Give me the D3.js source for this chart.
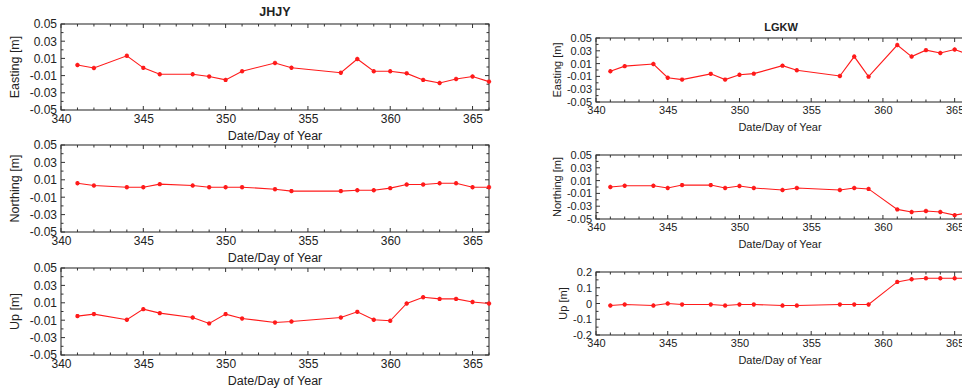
<!DOCTYPE html>
<html><head><meta charset="utf-8">
<script src="https://cdn.jsdelivr.net/npm/d3@7"></script>
<style>
html,body{margin:0;padding:0;background:#fff;overflow:hidden;}
svg{display:block;font-family:"Liberation Sans",Arial,sans-serif;}
</style></head>
<body>
<svg id="chart" width="962" height="390"></svg>
<script>
// ---------- data ----------
const stations = ["JHJY", "LGKW"];
const xTickLabels = [340, 345, 350, 355, 360, 365];
const yTicksSmall = [-0.05, -0.03, -0.01, 0.01, 0.03, 0.05];
const yTicksUpLGKW = [-0.2, -0.1, 0, 0.1, 0.2];
const components = ["Easting [m]", "Northing [m]", "Up [m]"];
const xAxisLabel = "Date/Day of Year";

const daysJHJY = [341,342,344,345,346,348,349,350,351,353,354,357,358,359,360,361,362,363,364,365,366];
const jhjyEasting  = [0.0023,-0.0012,0.013,-0.001,-0.0085,-0.0085,-0.011,-0.015,-0.005,0.0047,-0.0008,-0.0066,0.0093,-0.005,-0.005,-0.0074,-0.015,-0.0186,-0.014,-0.011,-0.017];
const jhjyNorthing = [0.0061,0.0034,0.0015,0.0015,0.005,0.0034,0.0015,0.0015,0.0015,-0.0008,-0.003,-0.003,-0.002,-0.002,0.0004,0.0046,0.0046,0.006,0.006,0.0015,0.0015];
const jhjyUp       = [-0.0053,-0.003,-0.0095,0.0027,-0.0019,-0.0069,-0.0137,-0.003,-0.008,-0.0126,-0.0115,-0.0069,-0.0004,-0.0095,-0.0107,0.0092,0.0164,0.0145,0.0145,0.011,0.0092];

const daysLGKW = [341,342,344,345,346,348,349,350,351,353,354,357,358,359,361,362,363,364,365,366];
const lgkwEasting  = [-0.002,0.006,0.0094,-0.012,-0.015,-0.006,-0.015,-0.0075,-0.0057,0.0068,-0.0005,-0.0094,0.021,-0.0104,0.039,0.021,0.031,0.0266,0.032,0.024];
const lgkwNorthing = [0.0,0.002,0.002,-0.0015,0.003,0.003,-0.0015,0.0015,-0.0015,-0.0047,-0.0015,-0.0047,-0.0015,-0.003,-0.035,-0.039,-0.0375,-0.039,-0.044,-0.040];
const lgkwUp       = [-0.0126,-0.006,-0.013,0.0,-0.006,-0.006,-0.013,-0.006,-0.006,-0.013,-0.013,-0.006,-0.006,-0.006,0.137,0.154,0.16,0.16,0.16,0.16];

// ---------- layout ----------
const svg = d3.select("#chart");
const RED = "#ff1a1a";
const INK = "#222";

const panels = [
  {st:0, comp:0, x0:61, x1:489, y0:24,  y1:110, days:daysJHJY, vals:jhjyEasting,  yDom:[-0.05,0.05], yTicks:yTicksSmall, yMinor:0.01, fs:12, lfs:12.5, ylabX:15, title:true},
  {st:0, comp:1, x0:61, x1:489, y0:145, y1:232, days:daysJHJY, vals:jhjyNorthing, yDom:[-0.05,0.05], yTicks:yTicksSmall, yMinor:0.01, fs:12, lfs:12.5, ylabX:15},
  {st:0, comp:2, x0:61, x1:489, y0:268, y1:355, days:daysJHJY, vals:jhjyUp,       yDom:[-0.05,0.05], yTicks:yTicksSmall, yMinor:0.01, fs:12, lfs:12.5, ylabX:15},
  {st:1, comp:0, x0:596, x1:969, y0:38,  y1:102, days:daysLGKW, vals:lgkwEasting,  yDom:[-0.05,0.05], yTicks:yTicksSmall, yMinor:0.01, fs:11, lfs:11, ylabX:557, title:true},
  {st:1, comp:1, x0:596, x1:969, y0:155, y1:219, days:daysLGKW, vals:lgkwNorthing, yDom:[-0.05,0.05], yTicks:yTicksSmall, yMinor:0.01, fs:11, lfs:11, ylabX:557},
  {st:1, comp:2, x0:596, x1:969, y0:272, y1:335, days:daysLGKW, vals:lgkwUp,       yDom:[-0.2,0.2],   yTicks:yTicksUpLGKW, yMinor:0.05, fs:11, lfs:11, ylabX:563}
];

const fmt = v => String(v);

panels.forEach(p => {
  const x = d3.scaleLinear().domain([340, 366]).range([p.x0, p.x1]);
  const y = d3.scaleLinear().domain(p.yDom).range([p.y1, p.y0]);
  const g = svg.append("g");
  const w = p.x1 - p.x0, h = p.y1 - p.y0;

  const xMinor = d3.range(340, 367, 1);
  const yMinorVals = d3.range(Math.round(p.yDom[0]/p.yMinor), Math.round(p.yDom[1]/p.yMinor)+1).map(k => +(k*p.yMinor).toFixed(4));
  const tickG = g.append("g").attr("stroke", "#333").attr("stroke-width", 1);
  xMinor.forEach(d => {
    const major = xTickLabels.includes(d);
    const L = major ? 4 : 2.5;
    tickG.append("line").attr("x1", x(d)).attr("x2", x(d)).attr("y1", p.y1).attr("y2", p.y1 - L);
    tickG.append("line").attr("x1", x(d)).attr("x2", x(d)).attr("y1", p.y0).attr("y2", p.y0 + L);
  });
  yMinorVals.forEach(d => {
    const major = p.yTicks.some(t => Math.abs(t - d) < 1e-9);
    const L = major ? 4 : 2.5;
    tickG.append("line").attr("x1", p.x0).attr("x2", p.x0 + L).attr("y1", y(d)).attr("y2", y(d));
    tickG.append("line").attr("x1", p.x1).attr("x2", p.x1 - L).attr("y1", y(d)).attr("y2", y(d));
  });

  const xAxis = d3.axisBottom(x).tickValues(xTickLabels).tickSize(0).tickPadding(4).tickFormat(d3.format("d"));
  const xg = g.append("g").attr("transform", `translate(0,${p.y1})`).call(xAxis);
  xg.select(".domain").remove();
  xg.selectAll("text").attr("font-size", p.fs).attr("fill", INK).attr("font-family", "Liberation Sans, Arial, sans-serif");

  const yAxis = d3.axisLeft(y).tickValues(p.yTicks).tickSize(0).tickPadding(4).tickFormat(fmt);
  const yg = g.append("g").attr("transform", `translate(${p.x0},0)`).call(yAxis);
  yg.select(".domain").remove();
  yg.selectAll("text").attr("font-size", p.fs).attr("fill", INK).attr("font-family", "Liberation Sans, Arial, sans-serif");

  g.append("rect").attr("x", p.x0).attr("y", p.y0).attr("width", w).attr("height", h)
    .attr("fill", "none").attr("stroke", "#333").attr("stroke-width", 1.1);

  const pts = p.days.map((d, i) => [d, p.vals[i]]);
  const clipId = "clip" + p.st + p.comp;
  svg.append("clipPath").attr("id", clipId).append("rect")
    .attr("x", p.x0 - 3).attr("y", p.y0 - 3).attr("width", w + 6).attr("height", h + 6);
  const dg = g.append("g").attr("clip-path", `url(#${clipId})`);
  dg.append("path").datum(pts)
    .attr("d", d3.line().x(d => x(d[0])).y(d => y(d[1])))
    .attr("fill", "none").attr("stroke", RED).attr("stroke-width", 1.1);
  const s = 2.2;
  pts.forEach(d => {
    const cx = x(d[0]), cy = y(d[1]);
    dg.append("path")
      .attr("d", `M${cx-s},${cy}L${cx+s},${cy}M${cx},${cy-s}L${cx},${cy+s}M${cx-s*0.7},${cy-s*0.7}L${cx+s*0.7},${cy+s*0.7}M${cx-s*0.7},${cy+s*0.7}L${cx+s*0.7},${cy-s*0.7}`)
      .attr("stroke", RED).attr("stroke-width", 1.3).attr("fill", "none");
  });

  const xc = p.st === 0 ? (p.x0 + p.x1) / 2 : 780;
  g.append("text").attr("x", xc).attr("y", p.y1 + (p.st === 0 ? 26 : 25))
    .attr("text-anchor", "middle").attr("dominant-baseline", "central")
    .attr("font-size", p.lfs).attr("fill", INK).text(xAxisLabel);

  g.append("text").attr("transform", `translate(${p.ylabX},${(p.y0 + p.y1) / 2}) rotate(-90)`)
    .attr("text-anchor", "middle").attr("dominant-baseline", "central")
    .attr("font-size", p.lfs).attr("fill", INK).text(components[p.comp]);

  if (p.title) {
    g.append("text").attr("x", p.st === 0 ? 275 : 781).attr("y", p.st === 0 ? 12 : 27)
      .attr("text-anchor", "middle").attr("dominant-baseline", "central")
      .attr("font-size", p.st === 0 ? 12.5 : 11).attr("font-weight", "bold").attr("fill", INK)
      .text(stations[p.st]);
  }
});
</script>
</body></html>
